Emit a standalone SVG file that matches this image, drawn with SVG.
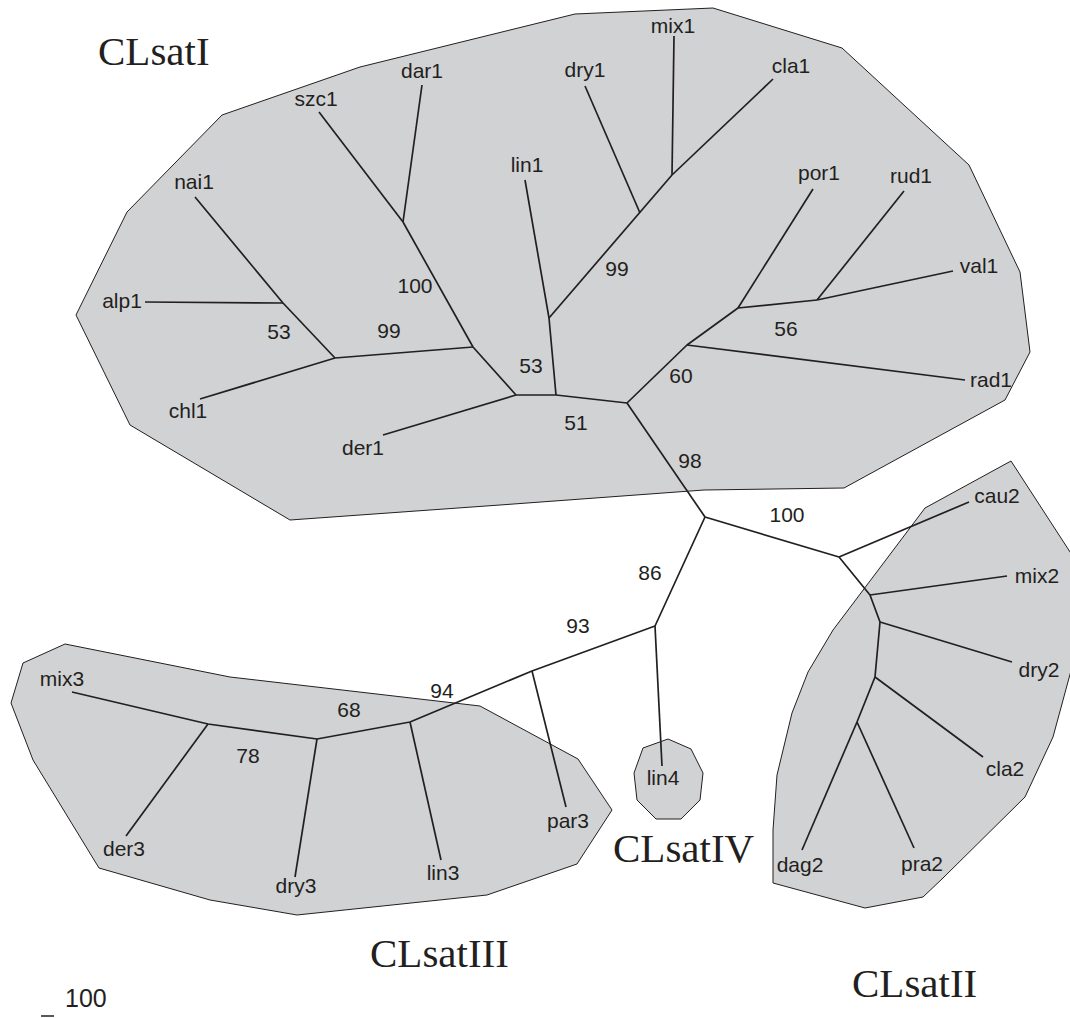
<svg xmlns="http://www.w3.org/2000/svg" width="1070" height="1018" viewBox="0 0 1070 1018">
<style>
.hull{fill:#d1d2d4;stroke:#231f20;stroke-width:1;stroke-linejoin:miter}
.br{fill:none;stroke:#231f20;stroke-width:1.7;stroke-linejoin:round;stroke-linecap:butt}
.lab{font-family:"Liberation Sans",Arial,sans-serif;font-size:21px;fill:#231f20;text-anchor:middle}
.boot{font-family:"Liberation Sans",Arial,sans-serif;font-size:21px;fill:#231f20;text-anchor:middle}
.cl{font-family:"Liberation Serif","Times New Roman",serif;font-size:41px;fill:#231f20}
</style>
<rect width="1070" height="1018" fill="#ffffff"/>
<g id="cluster-CLsatI">
<polygon class="hull" points="222,115 360,67 575,14 713,8 842,48 969,165 1020,272 1030,352 1005,400 844,488 704,490 500,505 290,520 130,425 76,315 127,212"/>
<text class="cl" x="98" y="65">CLsatI</text>
</g>
<g id="cluster-CLsatII">
<polygon class="hull" points="1011,461 1072,555 1072,667 1053,737 1025,797 943,878 923,897 865,908 773,883 773,830 777,775 792,713 808,672 833,630 925,508"/>
<text class="cl" x="852" y="997">CLsatII</text>
</g>
<g id="cluster-CLsatIII">
<polygon class="hull" points="65,644 230,677 480,706 578,759 612,810 577,864 487,895 297,915 210,900 99,868 33,760 11,703 23,663"/>
<text class="cl" x="370" y="967">CLsatIII</text>
</g>
<g id="cluster-CLsatIV">
<polygon class="hull" points="668,739 691,749 703,773 700,800 681,819 656,819 637,800 634,773 643,748"/>
<text class="cl" x="613" y="862">CLsatIV</text>
</g>
<g id="connectors">
<polyline class="br" points="195,197 283,303 335,358"/>
<line class="br" x1="145" y1="302" x2="283" y2="303"/>
<line class="br" x1="200" y1="399" x2="335" y2="358"/>
<line class="br" x1="335" y1="358" x2="473" y2="347"/>
<line class="br" x1="319" y1="112" x2="403" y2="222"/>
<line class="br" x1="422" y1="85" x2="403" y2="222"/>
<polyline class="br" points="403,222 473,347 516,395 556,395"/>
<line class="br" x1="383" y1="435" x2="516" y2="395"/>
<polyline class="br" points="525,180 549,318 556,395"/>
<line class="br" x1="549" y1="318" x2="672" y2="175"/>
<line class="br" x1="585" y1="86" x2="640" y2="213"/>
<line class="br" x1="674" y1="36" x2="672" y2="175"/>
<line class="br" x1="773" y1="79" x2="672" y2="175"/>
<polyline class="br" points="556,395 627,403 687,345 738,308 817,300"/>
<line class="br" x1="687" y1="345" x2="965" y2="380"/>
<line class="br" x1="738" y1="308" x2="813" y2="189"/>
<line class="br" x1="817" y1="300" x2="904" y2="191"/>
<line class="br" x1="817" y1="300" x2="953" y2="271"/>
<line class="br" x1="627" y1="403" x2="705" y2="517"/>
<polyline class="br" points="705,517 839,557 870,595 880,622 875,677 857,722"/>
<line class="br" x1="839" y1="557" x2="969" y2="502"/>
<line class="br" x1="870" y1="595" x2="1007" y2="576"/>
<line class="br" x1="880" y1="622" x2="1012" y2="662"/>
<line class="br" x1="875" y1="677" x2="983" y2="757"/>
<line class="br" x1="857" y1="722" x2="802" y2="850"/>
<line class="br" x1="857" y1="722" x2="914" y2="848"/>
<polyline class="br" points="705,517 655,626 532,671 410,722 317,739 208,724 72,692"/>
<line class="br" x1="655" y1="626" x2="662" y2="766"/>
<line class="br" x1="532" y1="671" x2="566" y2="807"/>
<line class="br" x1="410" y1="722" x2="441" y2="860"/>
<line class="br" x1="317" y1="739" x2="295" y2="877"/>
<line class="br" x1="208" y1="724" x2="126" y2="836"/>
</g>
<g id="node-nai1"><text class="lab" x="194" y="189">nai1</text></g>
<g id="node-alp1"><text class="lab" x="122" y="308">alp1</text></g>
<g id="node-chl1"><text class="lab" x="188" y="418">chl1</text></g>
<g id="node-szc1"><text class="lab" x="316" y="106">szc1</text></g>
<g id="node-dar1"><text class="lab" x="422" y="78">dar1</text></g>
<g id="node-der1"><text class="lab" x="363" y="455">der1</text></g>
<g id="node-lin1"><text class="lab" x="527" y="172">lin1</text></g>
<g id="node-dry1"><text class="lab" x="585" y="77">dry1</text></g>
<g id="node-mix1"><text class="lab" x="673" y="33">mix1</text></g>
<g id="node-cla1"><text class="lab" x="791" y="73">cla1</text></g>
<g id="node-por1"><text class="lab" x="819" y="180">por1</text></g>
<g id="node-rud1"><text class="lab" x="911" y="183">rud1</text></g>
<g id="node-val1"><text class="lab" x="979" y="273">val1</text></g>
<g id="node-rad1"><text class="lab" x="991" y="387">rad1</text></g>
<g id="node-cau2"><text class="lab" x="997" y="503">cau2</text></g>
<g id="node-mix2"><text class="lab" x="1037" y="583">mix2</text></g>
<g id="node-dry2"><text class="lab" x="1039" y="677">dry2</text></g>
<g id="node-cla2"><text class="lab" x="1005" y="776">cla2</text></g>
<g id="node-pra2"><text class="lab" x="922" y="871">pra2</text></g>
<g id="node-dag2"><text class="lab" x="800" y="872">dag2</text></g>
<g id="node-lin4"><text class="lab" x="663" y="785">lin4</text></g>
<g id="node-par3"><text class="lab" x="568" y="828">par3</text></g>
<g id="node-lin3"><text class="lab" x="443" y="880">lin3</text></g>
<g id="node-dry3"><text class="lab" x="296" y="893">dry3</text></g>
<g id="node-der3"><text class="lab" x="124" y="856">der3</text></g>
<g id="node-mix3"><text class="lab" x="62" y="686">mix3</text></g>
<g id="bootstrap">
<text class="boot" x="279" y="339">53</text>
<text class="boot" x="389" y="338">99</text>
<text class="boot" x="415" y="293">100</text>
<text class="boot" x="531" y="373">53</text>
<text class="boot" x="617" y="276">99</text>
<text class="boot" x="576" y="430">51</text>
<text class="boot" x="681" y="383">60</text>
<text class="boot" x="786" y="336">56</text>
<text class="boot" x="690" y="468">98</text>
<text class="boot" x="787" y="522">100</text>
<text class="boot" x="650" y="580">86</text>
<text class="boot" x="578" y="633">93</text>
<text class="boot" x="442" y="698">94</text>
<text class="boot" x="349" y="717">68</text>
<text class="boot" x="248" y="763">78</text>
</g>
<g id="scale-bar">
<line x1="41" y1="1016" x2="54" y2="1016" stroke="#231f20" stroke-width="1.5"/>
<text x="65" y="1007" font-family="'Liberation Sans',Arial,sans-serif" font-size="25" fill="#231f20">100</text>
</g>
</svg>
